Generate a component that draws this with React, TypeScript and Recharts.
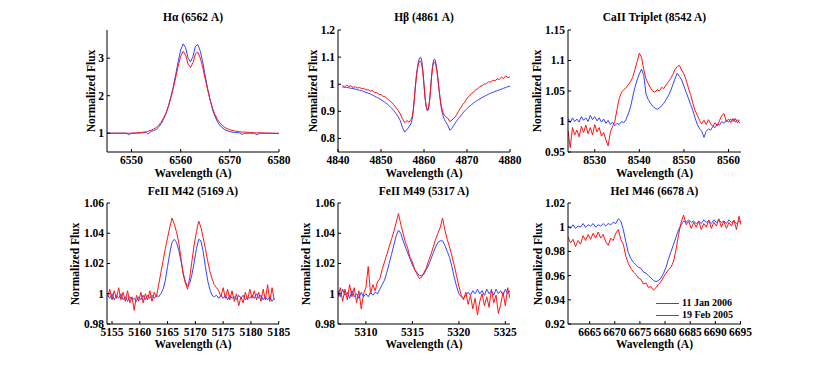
import React from 'react';
import { LineChart, Line, XAxis, YAxis, Legend } from 'recharts';

const FONT = '"Liberation Serif", "Times New Roman", Times, serif';
const BLUE = '#3344ff';
const RED = '#ff1414';
const SERIES_NAMES = ['11 Jan 2006', '19 Feb 2005'];

// ---------- H alpha ----------
const haX = [6545,6547,6549,6549.4,6550,6551,6552,6553,6553.3,6554,6554.5,6555,6555.5,6556,6556.5,6557,6557.5,6558,6558.5,6559,6559.5,6560,6560.5,6561,6561.5,6562,6562.5,6563,6563.5,6564,6564.5,6565,6565.5,6566,6566.5,6567,6567.5,6568,6569,6570,6571,6572,6572.5,6573,6574,6575,6575.5,6576,6578,6580];
const haBlue = [1.00,1.00,1.00,0.96,1.00,1.00,1.01,1.02,0.98,1.05,1.07,1.10,1.16,1.25,1.37,1.52,1.72,1.97,2.25,2.58,2.92,3.22,3.38,3.28,3.00,2.90,3.05,3.32,3.36,3.18,2.88,2.52,2.18,1.88,1.62,1.44,1.30,1.20,1.09,1.04,1.02,1.01,0.97,1.00,1.00,1.00,0.96,1.00,1.00,0.99];
const haRed = [1.00,1.00,1.00,1.00,1.00,1.01,1.02,1.04,1.05,1.08,1.11,1.15,1.21,1.29,1.40,1.54,1.72,1.95,2.20,2.50,2.80,3.05,3.18,3.08,2.84,2.75,2.88,3.12,3.16,3.00,2.74,2.44,2.14,1.88,1.66,1.49,1.36,1.27,1.15,1.09,1.06,1.04,1.03,1.03,1.02,1.01,1.01,1.01,1.00,1.00];

// ---------- H beta ----------
const hbX = [4841,4841.5,4842,4842.5,4843,4843.5,4844,4844.5,4845,4845.5,
4846,4846.5,4847,4847.5,4848,4848.5,4849,4849.5,4850,4850.5,
4851,4851.5,4852,4852.5,4853,4853.5,4854,4854.5,4855,4855.5,
4856,4856.5,4857,4857.25,4857.5,4857.75,4858,4858.25,4858.5,4858.75,
4859,4859.25,4859.5,4859.75,4860,4860.25,4860.5,4860.75,4861,4861.25,
4861.5,4861.75,4862,4862.25,4862.5,4862.75,4863,4863.25,4863.5,4863.75,
4864,4864.25,4864.5,4864.75,4865,4865.5,4866,4866.5,4867,4867.5,
4868,4868.5,4869,4869.5,4870,4870.5,4871,4871.5,4872,4872.5,
4873,4873.5,4874,4874.5,4875,4875.5,4876,4876.5,4877,4877.5,
4878,4878.5,4879,4879.5,4880];
const hbBlue = [0.990,0.989,0.988,0.987,0.985,0.984,0.982,0.980,0.978,0.976,
0.973,0.970,0.967,0.964,0.960,0.956,0.952,0.948,0.943,0.938,
0.932,0.926,0.919,0.911,0.902,0.892,0.880,0.865,0.840,0.823,
0.832,0.842,0.855,0.870,0.900,0.945,0.995,1.035,1.065,1.088,
1.097,1.100,1.085,1.050,1.000,0.950,0.918,0.902,0.905,0.930,
0.975,1.030,1.070,1.090,1.092,1.080,1.055,1.020,0.980,0.945,
0.915,0.895,0.880,0.870,0.862,0.850,0.830,0.838,0.850,0.862,
0.873,0.883,0.893,0.902,0.910,0.917,0.924,0.930,0.936,0.941,
0.946,0.951,0.955,0.959,0.963,0.967,0.970,0.973,0.976,0.979,
0.982,0.985,0.988,0.991,0.993];
const hbRed = [0.995,0.990,0.996,0.992,0.994,0.988,0.991,0.986,0.988,0.984,
0.985,0.979,0.980,0.975,0.976,0.970,0.969,0.963,0.962,0.955,
0.953,0.946,0.940,0.933,0.924,0.914,0.903,0.890,0.872,0.858,
0.866,0.860,0.870,0.880,0.905,0.945,0.990,1.030,1.058,1.078,
1.086,1.084,1.070,1.040,0.995,0.950,0.920,0.905,0.910,0.935,
0.975,1.025,1.062,1.080,1.082,1.070,1.048,1.015,0.980,0.948,
0.922,0.905,0.893,0.886,0.880,0.875,0.862,0.868,0.875,0.885,
0.900,0.912,0.925,0.934,0.948,0.955,0.966,0.970,0.980,0.983,
0.992,0.994,1.001,1.002,1.009,1.008,1.015,1.012,1.020,1.017,
1.026,1.021,1.031,1.024,1.028];

// ---------- CaII triplet ----------
const caX = [8524,8524.5,8525,8525.5,8526,8526.5,8527,8527.5,8528,8528.5,
8529,8529.5,8530,8530.5,8531,8531.5,8532,8532.5,8533,8533.5,
8534,8534.5,8535,8535.5,8536,8536.5,8537,8537.5,8538,8538.5,
8539,8539.5,8540,8540.5,8541,8541.5,8542,8542.5,8543,8543.5,
8544,8544.5,8545,8545.5,8546,8546.5,8547,8547.5,8548,8548.5,
8549,8549.5,8550,8550.5,8551,8551.5,8552,8552.5,8553,8553.5,
8554,8554.5,8555,8555.5,8556,8556.5,8557,8557.5,8558,8558.5,
8559,8559.5,8560,8560.5,8561,8561.5,8562,8562.5];
const caBlue = [1.005,0.998,1.006,1.000,1.004,0.999,1.008,1.002,1.006,1.000,
1.010,1.003,1.008,1.001,1.006,0.999,1.004,0.997,1.002,0.995,
0.999,0.993,0.997,0.995,1.000,0.998,1.003,1.012,1.023,1.040,
1.056,1.068,1.078,1.086,1.075,1.045,1.036,1.030,1.025,1.022,
1.020,1.022,1.026,1.030,1.036,1.042,1.050,1.060,1.070,1.079,
1.074,1.068,1.058,1.048,1.038,1.028,1.018,1.006,0.995,0.988,
0.984,0.974,0.984,0.988,0.986,0.992,0.990,0.996,0.994,1.000,
0.997,1.002,0.999,1.004,1.000,1.005,0.998,1.003];
const caRed = [0.985,0.957,0.990,0.978,0.986,0.975,0.992,0.982,0.994,0.980,
0.990,0.978,0.995,0.983,0.990,0.976,0.982,0.970,0.960,0.982,
0.992,1.000,1.020,1.038,1.048,1.052,1.055,1.060,1.065,1.072,
1.085,1.098,1.112,1.105,1.085,1.070,1.062,1.055,1.050,1.048,
1.052,1.050,1.056,1.054,1.060,1.065,1.070,1.077,1.085,1.090,
1.092,1.084,1.078,1.068,1.055,1.044,1.030,1.018,1.010,1.002,
0.996,1.002,0.995,1.003,0.996,0.992,0.998,0.993,1.002,1.010,
1.013,1.000,1.004,0.998,1.005,0.999,1.003,0.997];

// ---------- FeII M42 ----------
const fe42X = [5154.2,5154.6,5155.0,5155.4,5155.8,5156.2,5156.6,5157.0,5157.4,5157.8,
5158.2,5158.6,5159.0,5159.4,5159.8,5160.2,5160.6,5161.0,5161.4,5161.8,
5162.2,5162.6,5163.0,5163.4,5163.8,5164.2,5164.6,5165.0,5165.4,5165.8,
5166.2,5166.6,5167.0,5167.4,5167.8,5168.2,5168.6,5169.0,5169.4,5169.8,
5170.2,5170.6,5171.0,5171.4,5171.8,5172.2,5172.6,5173.0,5173.4,5173.8,
5174.2,5174.6,5175.0,5175.4,5175.8,5176.2,5176.6,5177.0,5177.4,5177.8,
5178.2,5178.6,5179.0,5179.4,5179.8,5180.2,5180.6,5181.0,5181.4,5181.8,
5182.2,5182.6,5183.0,5183.4,5183.8,5184.2];
const fe42Blue = [0.999,0.997,1.000,0.996,0.999,0.997,1.000,0.996,0.998,0.995,
0.998,0.996,0.997,0.995,0.998,0.996,0.999,0.996,0.999,0.997,
0.999,0.997,0.999,0.998,1.000,1.003,1.009,1.018,1.027,1.034,
1.036,1.034,1.029,1.022,1.014,1.008,1.005,1.007,1.013,1.021,
1.030,1.036,1.035,1.028,1.018,1.009,1.003,0.999,0.998,0.999,
0.997,0.999,0.997,0.999,0.996,0.999,0.997,0.998,0.996,0.999,
0.997,0.999,0.996,0.998,0.997,0.999,0.997,1.000,0.997,0.999,
0.996,0.998,0.996,0.998,0.995,0.997];
const fe42Red = [0.998,1.003,0.996,1.002,0.997,1.004,0.996,1.001,0.995,1.002,
0.994,0.998,0.989,0.999,0.995,1.001,0.994,1.000,0.996,1.002,
0.995,1.001,0.998,1.006,1.014,1.022,1.030,1.037,1.044,1.050,
1.046,1.041,1.034,1.024,1.013,1.007,1.003,1.011,1.022,1.033,
1.041,1.048,1.044,1.037,1.030,1.022,1.015,1.010,1.006,1.004,
1.002,0.998,1.004,0.997,1.003,0.996,1.002,0.995,1.000,0.992,
0.998,0.994,1.001,0.996,1.003,0.997,1.002,0.996,1.001,0.995,
1.003,0.996,1.006,0.995,1.004,0.996];

// ---------- FeII M49 ----------
const fe49X = [5307.00,5307.25,5307.50,5307.75,5308.00,5308.25,5308.50,5308.75,5309.00,5309.25,
5309.50,5309.75,5310.00,5310.25,5310.50,5310.75,5311.00,5311.25,5311.50,5311.75,
5312.00,5312.25,5312.50,5312.75,5313.00,5313.25,5313.50,5313.75,5314.00,5314.25,
5314.50,5314.75,5315.00,5315.25,5315.50,5315.75,5316.00,5316.25,5316.50,5316.75,
5317.00,5317.25,5317.50,5317.75,5318.00,5318.25,5318.50,5318.75,5319.00,5319.25,
5319.50,5319.75,5320.00,5320.25,5320.50,5320.75,5321.00,5321.25,5321.50,5321.75,
5322.00,5322.25,5322.50,5322.75,5323.00,5323.25,5323.50,5323.75,5324.00,5324.25,
5324.50,5324.75,5325.00,5325.25,5325.50];
const fe49Blue = [1.002,0.998,1.003,0.999,1.001,0.997,1.002,0.998,1.000,0.997,
1.001,0.998,1.000,0.998,1.001,0.999,1.001,1.000,1.003,1.006,
1.009,1.014,1.020,1.026,1.032,1.038,1.042,1.040,1.035,1.031,
1.027,1.023,1.019,1.016,1.014,1.012,1.012,1.013,1.016,1.019,
1.023,1.027,1.031,1.034,1.035,1.035,1.032,1.028,1.024,1.018,
1.011,1.005,1.000,0.998,0.997,0.999,1.001,0.999,1.002,1.000,
1.003,1.000,1.002,0.999,1.003,1.000,1.002,0.999,1.003,1.000,
1.002,0.999,1.003,1.000,1.002];
const fe49Red = [0.998,1.004,0.995,1.003,0.996,1.006,0.998,1.004,0.994,1.002,
0.990,1.000,1.004,1.018,1.000,1.006,1.002,1.008,1.010,1.016,
1.021,1.026,1.031,1.036,1.041,1.047,1.053,1.046,1.040,1.034,
1.030,1.024,1.021,1.016,1.013,1.010,1.011,1.014,1.017,1.022,
1.026,1.031,1.036,1.040,1.044,1.050,1.042,1.036,1.031,1.025,
1.019,1.012,1.005,0.999,0.996,1.001,0.993,0.999,0.990,0.997,
0.986,0.995,1.000,0.992,0.998,0.991,1.003,0.994,0.999,0.987,
0.993,1.001,0.992,1.004,0.997];

// ---------- HeI M46 ----------
const heX = [6660.7,6661.2,6661.7,6662.2,6662.7,6663.2,6663.7,6664.2,6664.7,6665.2,
6665.7,6666.2,6666.7,6667.2,6667.7,6668.2,6668.7,6669.2,6669.7,6670.2,
6670.7,6671.2,6671.7,6672.2,6672.7,6673.2,6673.7,6674.2,6674.7,6675.2,
6675.7,6676.2,6676.7,6677.2,6677.7,6678.2,6678.7,6679.2,6679.7,6680.2,
6680.7,6681.2,6681.7,6682.2,6682.7,6683.2,6683.7,6684.2,6684.7,6685.2,
6685.7,6686.2,6686.7,6687.2,6687.7,6688.2,6688.7,6689.2,6689.7,6690.2,
6690.7,6691.2,6691.7,6692.2,6692.7,6693.2,6693.7,6694.2,6694.7,6695.1];
const heBlue = [1.001,0.999,1.002,0.999,1.001,1.000,1.003,1.000,1.002,1.001,
1.003,1.000,1.002,1.001,1.003,1.001,1.003,1.002,1.004,1.003,
1.007,1.005,0.998,0.988,0.979,0.974,0.971,0.969,0.967,0.966,
0.963,0.962,0.960,0.958,0.956,0.955,0.956,0.958,0.962,0.967,
0.974,0.980,0.986,0.992,0.998,1.002,1.005,1.004,1.006,1.004,
1.005,1.003,1.005,1.003,1.006,1.004,1.005,1.003,1.006,1.004,
1.006,1.004,1.005,1.003,1.006,1.004,1.005,1.003,1.005,1.004];
const heRed = [0.992,0.987,0.990,0.984,0.989,0.986,0.993,0.989,0.994,0.990,
0.995,0.991,0.996,0.991,0.994,0.988,0.985,0.991,0.989,0.995,
0.998,0.990,0.986,0.976,0.970,0.966,0.963,0.961,0.958,0.957,
0.953,0.954,0.950,0.951,0.948,0.950,0.953,0.955,0.959,0.962,
0.965,0.967,0.972,0.982,0.994,1.004,1.010,1.002,1.005,0.999,
1.004,1.000,1.005,0.998,1.003,1.000,1.006,0.999,1.004,1.001,
1.007,1.000,1.005,0.999,1.004,1.001,1.006,0.998,1.009,1.002];

type PanelDef = {
  title: string;
  x: number[];
  blue: number[];
  red: number[];
  xDomain: [number, number];
  yDomain: [number, number];
  xTicks: number[];
  yTicks: number[];
  left: number;
  top: number;
  width: number;
  height: number;
  yLabelX: number;
  titleY: number;
  xLabelY: number;
  legend?: boolean;
};

const PANELS: PanelDef[] = [
  { title: 'Hα (6562 A)', x: haX, blue: haBlue, red: haRed, xDomain: [6545, 6580], yDomain: [0.5, 3.75],
    xTicks: [6550, 6560, 6570, 6580], yTicks: [1, 2, 3], left: 107, top: 30, width: 172, height: 122, yLabelX: 90.5, titleY: 17, xLabelY: 172.5 },
  { title: 'Hβ (4861 A)', x: hbX, blue: hbBlue, red: hbRed, xDomain: [4840, 4880], yDomain: [0.75, 1.2],
    xTicks: [4840, 4850, 4860, 4870, 4880], yTicks: [0.8, 0.9, 1, 1.1, 1.2], left: 338, top: 30, width: 172, height: 122, yLabelX: 313, titleY: 17, xLabelY: 172.5 },
  { title: 'CaII Triplet (8542 A)', x: caX, blue: caBlue, red: caRed, xDomain: [8524, 8562.8], yDomain: [0.95, 1.15],
    xTicks: [8530, 8540, 8550, 8560], yTicks: [0.95, 1, 1.05, 1.1, 1.15], left: 568, top: 30, width: 173, height: 122, yLabelX: 537, titleY: 17, xLabelY: 172.5 },
  { title: 'FeII M42 (5169 A)', x: fe42X, blue: fe42Blue, red: fe42Red, xDomain: [5154.1, 5185.05], yDomain: [0.98, 1.06],
    xTicks: [5155, 5160, 5165, 5170, 5175, 5180, 5185], yTicks: [0.98, 1, 1.02, 1.04, 1.06], left: 107, top: 203, width: 172, height: 121, yLabelX: 75, titleY: 191, xLabelY: 344 },
  { title: 'FeII M49 (5317 A)', x: fe49X, blue: fe49Blue, red: fe49Red, xDomain: [5307, 5325.5], yDomain: [0.98, 1.06],
    xTicks: [5310, 5315, 5320, 5325], yTicks: [0.98, 1, 1.02, 1.04, 1.06], left: 338, top: 203, width: 172, height: 121, yLabelX: 306, titleY: 191, xLabelY: 344 },
  { title: 'HeI M46 (6678 A)', x: heX, blue: heBlue, red: heRed, xDomain: [6660.7, 6695.1], yDomain: [0.92, 1.02],
    xTicks: [6665, 6670, 6675, 6680, 6685, 6690, 6695], yTicks: [0.92, 0.94, 0.96, 0.98, 1, 1.02], left: 568, top: 203, width: 173, height: 121, yLabelX: 538, titleY: 191, xLabelY: 344, legend: true },
];

const textBase: React.CSSProperties = {
  position: 'absolute',
  fontFamily: FONT,
  fontWeight: 700,
  fontSize: 11.5,
  color: '#000',
  whiteSpace: 'nowrap',
  lineHeight: '13px',
};

const TICK_FS = 11.5;

function BottomTick(props: any) {
  const { x, y, payload } = props;
  return (
    <text x={x} y={y} dy="0.72em" textAnchor="middle" fontFamily={FONT} fontWeight={700}
      fontSize={TICK_FS} fill="#000">{String(payload.value)}</text>
  );
}

function LeftTick(props: any) {
  const { x, y, payload } = props;
  return (
    <text x={x} y={y} dy="0.34em" textAnchor="end" fontFamily={FONT} fontWeight={700}
      fontSize={TICK_FS} fill="#000">{String(payload.value)}</text>
  );
}

function LegendBox() {
  const colors = [BLUE, RED];
  return (
    <div style={{ fontFamily: FONT, fontWeight: 700, fontSize: 10, color: '#000', lineHeight: '12px' }}>
      {SERIES_NAMES.map((n, i) => (
        <div key={n} style={{ display: 'flex', alignItems: 'center', height: 12, whiteSpace: 'nowrap' }}>
          <div style={{ width: 23, height: 1, background: colors[i], marginRight: 3 }} />
          <span>{n}</span>
        </div>
      ))}
    </div>
  );
}

function Panel({ p }: { p: PanelDef }) {
  const data = p.x.map((x, i) => ({ x, b: p.blue[i], r: p.red[i] }));
  const ml = 60, mt = 10, mr = 30, mb = 40;
  const cx = p.left + p.width / 2;
  const cy = p.top + p.height / 2;
  return (
    <>
      <div style={{ position: 'absolute', left: p.left - ml, top: p.top - mt }}>
        <LineChart width={p.width + ml + mr} height={p.height + mt + mb} data={data}
          margin={{ top: mt, right: mr, bottom: 0, left: 0 }}>
          <XAxis xAxisId="b" dataKey="x" type="number" domain={p.xDomain} ticks={p.xTicks} allowDataOverflow
            interval={0} height={mb} tickSize={-3} tickMargin={7} tick={<BottomTick />}
            axisLine={{ stroke: '#000' }} tickLine={{ stroke: '#000' }} />
          <XAxis xAxisId="t" orientation="top" dataKey="x" type="number" domain={p.xDomain} ticks={p.xTicks} allowDataOverflow
            interval={0} height={0} tickSize={-3} tick={false}
            axisLine={{ stroke: '#000' }} tickLine={{ stroke: '#000' }} />
          <YAxis yAxisId="l" type="number" domain={p.yDomain} ticks={p.yTicks} allowDataOverflow
            interval={0} width={ml} tickSize={-3} tickMargin={6} tick={<LeftTick />}
            axisLine={{ stroke: '#000' }} tickLine={{ stroke: '#000' }} />
          <YAxis yAxisId="r" orientation="right" type="number" domain={p.yDomain} ticks={p.yTicks} allowDataOverflow
            interval={0} width={0} tickSize={-3} tick={false}
            axisLine={{ stroke: '#000' }} tickLine={{ stroke: '#000' }} />
          <Line xAxisId="b" yAxisId="l" dataKey="b" name={SERIES_NAMES[0]} stroke={BLUE} strokeWidth={1}
            dot={false} activeDot={false} isAnimationActive={false} />
          <Line xAxisId="b" yAxisId="l" dataKey="r" name={SERIES_NAMES[1]} stroke={RED} strokeWidth={1}
            dot={false} activeDot={false} isAnimationActive={false} />
          {p.legend && (
            <Legend layout="horizontal" verticalAlign="middle" align="center"
              wrapperStyle={{ left: 148, top: 104, width: 'auto', height: 'auto' }}
              content={() => <LegendBox />} />
          )}
        </LineChart>
      </div>
      <div style={{ ...textBase, left: cx, top: p.titleY, transform: 'translate(-50%, -50%)' }}>{p.title}</div>
      <div style={{ ...textBase, left: cx, top: p.xLabelY, transform: 'translate(-50%, -50%)' }}>Wavelength (A)</div>
      <div style={{ ...textBase, left: p.yLabelX, top: cy, transform: 'translate(-50%, -50%) rotate(-90deg)' }}>Normalized Flux</div>
    </>
  );
}

export default function App() {
  return (
    <div style={{ position: 'absolute', left: 0, top: 0, width: 822, height: 365, background: '#fff', overflow: 'hidden' }}>
      {PANELS.map((p) => (
        <Panel key={p.title} p={p} />
      ))}
    </div>
  );
}
